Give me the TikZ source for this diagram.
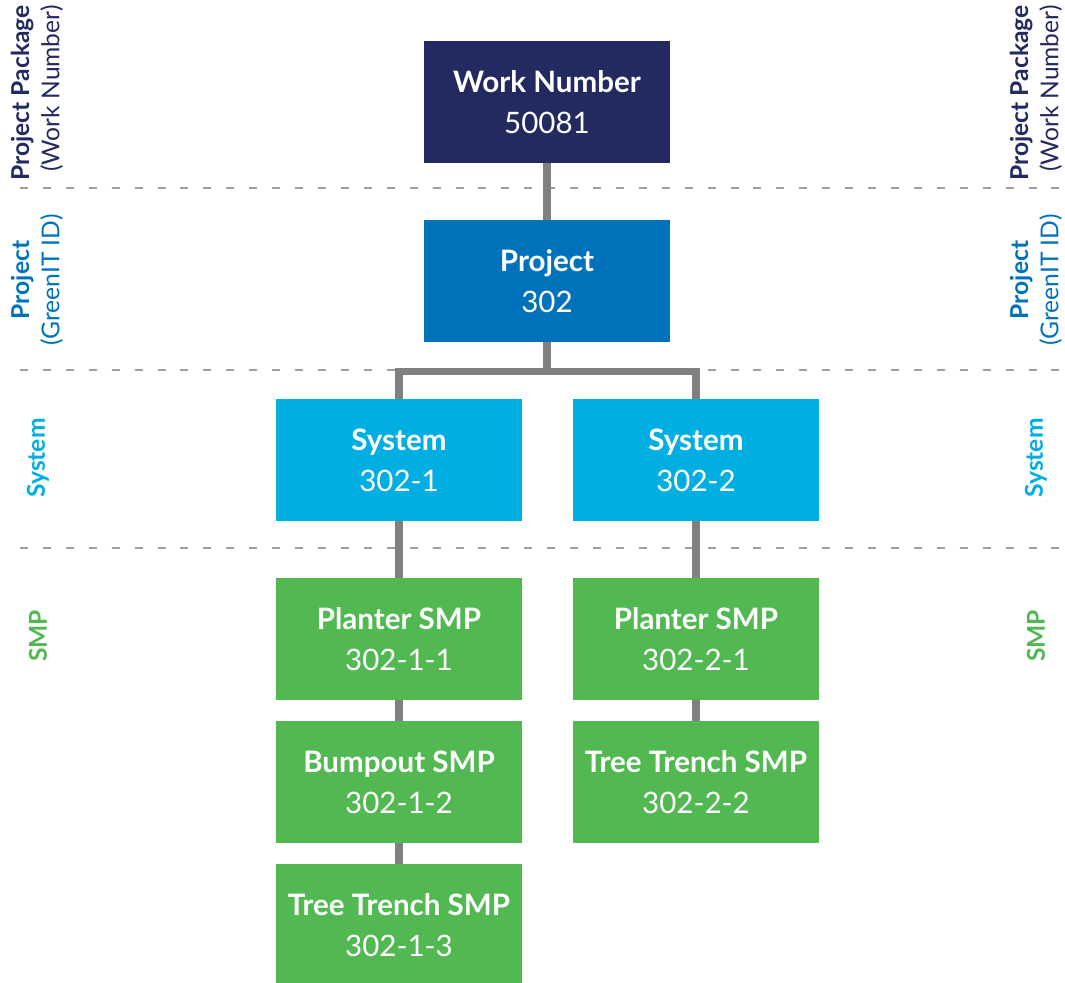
\documentclass[tikz,border=0pt]{standalone}
\usepackage{fontspec}
\setmainfont{Lato}
\usetikzlibrary{positioning}

\definecolor{navy}{RGB}{35,42,96}
\definecolor{projblue}{RGB}{0,114,187}
\definecolor{sysblue}{RGB}{0,174,226}
\definecolor{smpgreen}{RGB}{82,184,82}
\definecolor{linkgray}{RGB}{128,128,128}
\definecolor{dashgray}{RGB}{160,160,160}

\tikzset{
  box/.style={fill=#1, text=white, minimum width=6.125cm, minimum height=3.025cm,
              align=center, inner sep=0pt, font=\fontsize{21}{29}\selectfont},
  link/.style={draw=linkgray, line width=5pt},
  divider/.style={dashgray, line width=1.4pt, dash pattern=on 5.7pt off 10.6pt},
  level/.style={rotate=90, text=#1, inner sep=0pt, font=\fontsize{17.5}{21.5}\selectfont},
}

\begin{document}
\begin{tikzpicture}[x=0.025cm,y=-0.025cm]

  \useasboundingbox (0,0) rectangle (1065,983);

  \def\xleft{37}
  \def\xright{1036}

  % level dividers
  \draw[divider] (20,188) -- (1065,188);
  \draw[divider] (20,370) -- (1065,370);
  \draw[divider] (20,548) -- (1065,548);

  % level labels
  \node[level=navy, anchor=east, align=right] (pkgl) at (\xleft,5) {{\bfseries Project Package}\\(Work Number)};
  \node[level=navy, anchor=east, align=right] (pkgr) at (\xright,5) {{\bfseries Project Package}\\(Work Number)};
  \node[level=projblue, align=center] (projl) at (\xleft,280) {{\bfseries Project}\\(GreenIT ID)};
  \node[level=projblue, align=center] (projr) at (\xright,280) {{\bfseries Project}\\(GreenIT ID)};
  \node[level=sysblue, font=\fontsize{17.5}{20}\selectfont\bfseries] (sysl) at (38,458) {System};
  \node[level=sysblue, font=\fontsize{17.5}{20}\selectfont\bfseries] (sysr) at (\xright,458) {System};
  \node[level=smpgreen, font=\fontsize{17.5}{20}\selectfont\bfseries] (smpl) at (38,636) {SMP};
  \node[level=smpgreen, font=\fontsize{17.5}{20}\selectfont\bfseries] (smpr) at (\xright,636) {SMP};

  % boxes
  \node[box=navy] (work) at (547,102) {{\bfseries Work Number}\\50081};
  \node[box=projblue] (proj) at (547,281) {{\bfseries Project}\\302};
  \node[box=sysblue] (sysa) at (399,460) {{\bfseries System}\\302-1};
  \node[box=sysblue] (sysb) at (696,460) {{\bfseries System}\\302-2};
  \node[box=smpgreen] (plantera) at (399,639) {{\bfseries Planter SMP}\\302-1-1};
  \node[box=smpgreen] (bumpa) at (399,782) {{\bfseries Bumpout SMP}\\302-1-2};
  \node[box=smpgreen] (trencha) at (399,925) {{\bfseries Tree Trench SMP}\\302-1-3};
  \node[box=smpgreen] (planterb) at (696,639) {{\bfseries Planter SMP}\\302-2-1};
  \node[box=smpgreen] (trenchb) at (696,782) {{\bfseries Tree Trench SMP}\\302-2-2};

  % links
  \path (proj.south) ++(0,30) coordinate (fork);
  \draw[link] (work) -- (proj);
  \draw[link] (proj) -- (fork);
  \draw[link] (sysa.north) |- (fork) -| (sysb.north);
  \draw[link] (sysa) -- (plantera);
  \draw[link] (plantera) -- (bumpa);
  \draw[link] (bumpa) -- (trencha);
  \draw[link] (sysb) -- (planterb);
  \draw[link] (planterb) -- (trenchb);

\end{tikzpicture}
\end{document}
